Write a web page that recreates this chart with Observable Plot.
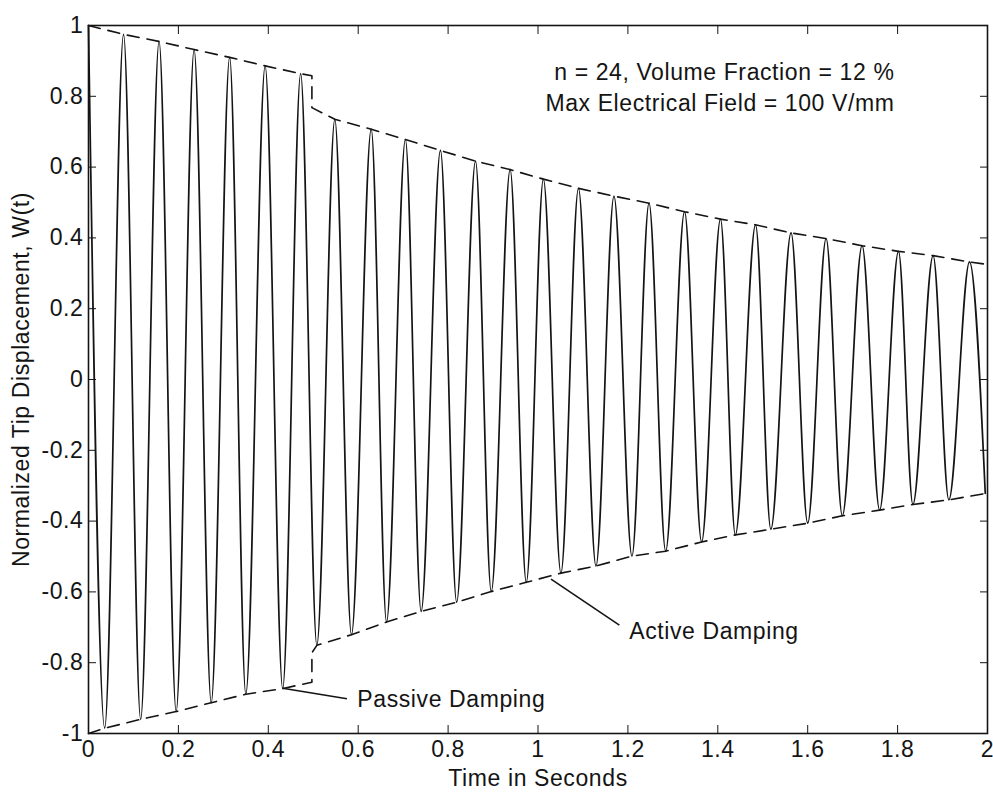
<!DOCTYPE html>
<html>
<head>
<meta charset="utf-8">
<script src="https://cdn.jsdelivr.net/npm/d3@7"></script>
<script src="https://cdn.jsdelivr.net/npm/@observablehq/plot@0.6"></script>
<style>
  body { margin: 0; background: #ffffff; }
  #chart svg text { letter-spacing: 0.6px; }
</style>
</head>
<body>
<div id="chart"></div>
<script>
// ---- Data ----
const peakTimes = [0, 0.078, 0.157, 0.235, 0.314, 0.393, 0.472, 0.548, 0.629, 0.705, 0.783, 0.861, 0.938, 1.012, 1.090, 1.169, 1.247, 1.326, 1.406, 1.484, 1.563, 1.641, 1.721, 1.802, 1.879, 1.960];
const peakValues = [1.00, 0.975, 0.955, 0.932, 0.910, 0.886, 0.864, 0.735, 0.707, 0.678, 0.647, 0.617, 0.593, 0.566, 0.540, 0.518, 0.498, 0.474, 0.453, 0.437, 0.414, 0.398, 0.378, 0.362, 0.350, 0.332];
const troughTimes = [0.036, 0.116, 0.195, 0.273, 0.350, 0.432, 0.508, 0.585, 0.663, 0.740, 0.819, 0.896, 0.974, 1.051, 1.129, 1.209, 1.284, 1.364, 1.439, 1.518, 1.600, 1.677, 1.760, 1.834, 1.914, 1.995];
const troughValues = [-0.985, -0.960, -0.938, -0.913, -0.889, -0.873, -0.751, -0.721, -0.685, -0.655, -0.629, -0.599, -0.573, -0.547, -0.527, -0.499, -0.485, -0.459, -0.439, -0.423, -0.406, -0.385, -0.369, -0.353, -0.340, -0.322];

// envelope (dashed) break at the control switch, and its ends
const switchTime = 0.497;
const upperSwitchValues = [0.858, 0.768];
const lowerSwitchValues = [-0.855, -0.772];
const envelopeStart = [1.0, -1.0];
const envelopeEndTime = 2.0;
const envelopeEndValues = [0.325, -0.318];

// axes
const xTicks = [0, 0.2, 0.4, 0.6, 0.8, 1, 1.2, 1.4, 1.6, 1.8, 2];
const yTicks = [-1, -0.8, -0.6, -0.4, -0.2, 0, 0.2, 0.4, 0.6, 0.8, 1];
const xLabel = "Time in Seconds";
const yLabel = "Normalized Tip Displacement, W(t)";

// annotations
const noteLines = ["n = 24, Volume Fraction = 12 %", "Max Electrical Field = 100 V/mm"];
const noteTimes = [1.793, 1.793];
const noteValues = [0.868, 0.778];
const calloutLabels = ["Passive Damping", "Active Damping"];
const calloutFromT = [0.432, 1.029];
const calloutFromV = [-0.872, -0.564];
const calloutToT = [0.575, 1.181];
const calloutToV = [-0.902, -0.694];
const calloutTextT = [0.598, 1.203];
const calloutTextV = [-0.905, -0.713];

// ---- Build tables ----
const extrema = [
  ...peakTimes.map((t, i) => ({t, v: peakValues[i]})),
  ...troughTimes.map((t, i) => ({t, v: troughValues[i]}))
].sort((a, b) => a.t - b.t);

const upperEnv = [{t: 0, v: envelopeStart[0]}];
peakTimes.forEach((t, i) => { if (t > 0 && t < switchTime) upperEnv.push({t, v: peakValues[i]}); });
upperEnv.push({t: switchTime, v: upperSwitchValues[0]}, {t: switchTime, v: upperSwitchValues[1]});
peakTimes.forEach((t, i) => { if (t > switchTime) upperEnv.push({t, v: peakValues[i]}); });
upperEnv.push({t: envelopeEndTime, v: envelopeEndValues[0]});

const lowerEnv = [{t: 0, v: envelopeStart[1]}];
troughTimes.forEach((t, i) => { if (t < switchTime) lowerEnv.push({t, v: troughValues[i]}); });
lowerEnv.push({t: switchTime, v: lowerSwitchValues[0]}, {t: switchTime, v: lowerSwitchValues[1]});
troughTimes.forEach((t, i) => { if (t > switchTime && t < envelopeEndTime) lowerEnv.push({t, v: troughValues[i]}); });
lowerEnv.push({t: envelopeEndTime, v: envelopeEndValues[1]});

const callouts = calloutLabels.map((label, i) => ({
  label, x1: calloutFromT[i], y1: calloutFromV[i], x2: calloutToT[i], y2: calloutToV[i],
  tx: calloutTextT[i], ty: calloutTextV[i]
}));
const notes = noteLines.map((text, i) => ({text, t: noteTimes[i], v: noteValues[i]}));

const ink = "#141414";
const fmt = d => String(d);
const fs = 23;

const chart = Plot.plot({
  width: 993,
  height: 796,
  marginLeft: 88,
  marginRight: 6,
  marginTop: 25,
  marginBottom: 63,
  style: {fontFamily: "'Liberation Sans', Arial, Helvetica, sans-serif", fontSize: fs + "px", background: "#ffffff", color: ink},
  x: {domain: [0, 2]},
  y: {domain: [-1, 1]},
  marks: [
    Plot.line(upperEnv, {x: "t", y: "v", stroke: ink, strokeWidth: 1.6, strokeDasharray: "12,8"}),
    Plot.line(lowerEnv, {x: "t", y: "v", stroke: ink, strokeWidth: 1.6, strokeDasharray: "12,8"}),
    Plot.line(extrema, {x: "t", y: "v", curve: "monotone-x", stroke: ink, strokeWidth: 1.7}),
    Plot.link(callouts, {x1: "x1", y1: "y1", x2: "x2", y2: "y2", stroke: ink, strokeWidth: 1.6}),
    Plot.text(callouts, {x: "tx", y: "ty", text: "label", textAnchor: "start", fill: ink, fontSize: fs}),
    Plot.text(notes, {x: "t", y: "v", text: "text", textAnchor: "end", fill: ink, fontSize: fs}),
    Plot.frame({stroke: ink, strokeWidth: 1.6}),
    Plot.axisX({anchor: "bottom", ticks: xTicks, tickSize: -8, tickPadding: 15, tickFormat: fmt,
      label: xLabel, labelAnchor: "center", labelOffset: 52, labelArrow: "none", fontSize: fs}),
    Plot.axisX({anchor: "top", ticks: xTicks, tickSize: -8, tickFormat: () => "", label: null}),
    Plot.axisY({anchor: "left", ticks: yTicks, tickSize: -8, tickPadding: 13, tickFormat: fmt,
      label: yLabel, labelAnchor: "center", labelOffset: 76, labelArrow: "none", fontSize: fs}),
    Plot.axisY({anchor: "right", ticks: yTicks, tickSize: -8, tickFormat: () => "", label: null})
  ]
});
document.getElementById("chart").appendChild(chart);
</script>
</body>
</html>
